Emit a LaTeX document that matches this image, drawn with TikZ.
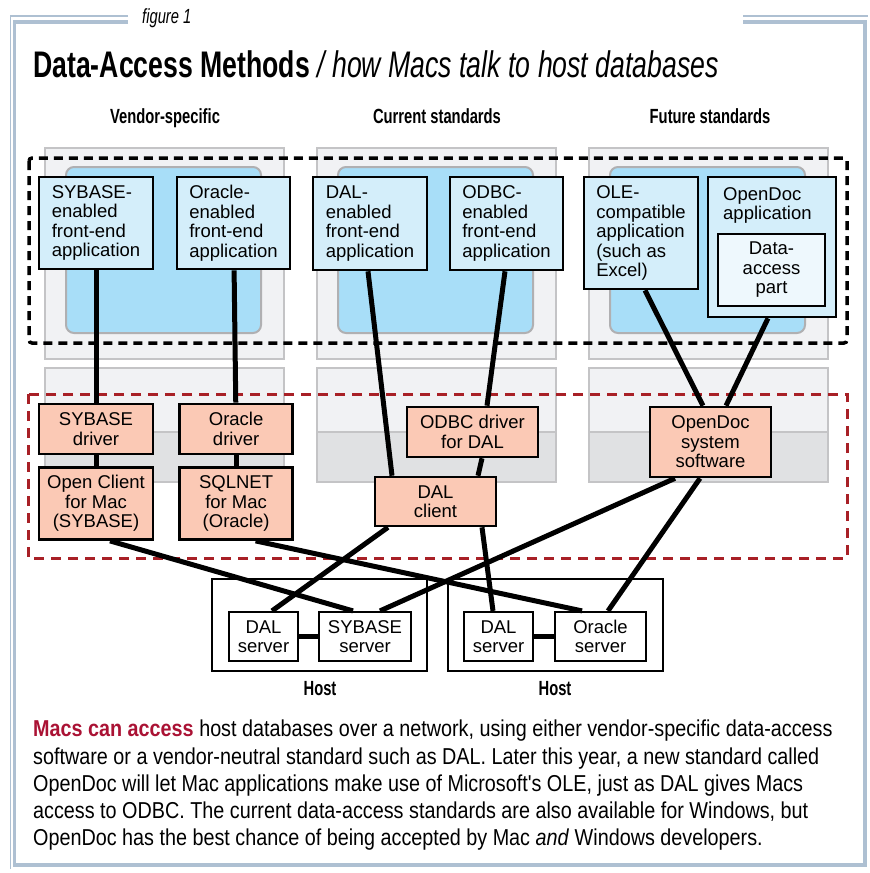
\documentclass[tikz,border=0pt]{standalone}
\usepackage{fontspec}
\setmainfont{Liberation Sans}
\newfontfamily\condsf[FakeStretch=0.72]{Liberation Sans}
\newfontfamily\bodysf[FakeStretch=0.86]{Liberation Sans}
\usetikzlibrary{positioning}
\definecolor{framegray}{RGB}{174,192,210}
\definecolor{screenblue}{RGB}{168,222,248}
\definecolor{appblue}{RGB}{212,238,250}
\definecolor{partblue}{RGB}{238,248,253}
\definecolor{drvorange}{RGB}{251,201,181}
\definecolor{casegray}{RGB}{241,242,244}
\definecolor{basegray}{RGB}{224,225,227}
\definecolor{edgegray}{RGB}{196,196,198}
\definecolor{dashred}{RGB}{168,32,38}
\definecolor{leadred}{RGB}{170,18,52}
\newcommand\boxfont{\fontsize{18.5pt}{19.5pt}\selectfont}
\tikzset{
  appbox/.style={draw,line width=2.6pt,fill=appblue,align=left,inner sep=0pt,
    minimum width=114pt,minimum height=92pt,font=\boxfont},
  partbox/.style={draw,line width=2.2pt,fill=partblue,align=center,inner sep=0pt,font=\boxfont},
  drvbox/.style={draw,line width=2.6pt,fill=drvorange,align=center,inner sep=0pt,
    minimum width=114pt,font=\boxfont},
  srvbox/.style={draw,line width=2.2pt,fill=white,align=center,inner sep=0pt,
    minimum height=49pt,font=\boxfont},
  hostbox/.style={draw,line width=2.2pt,fill=white,minimum width=215pt,minimum height=92pt},
  link/.style={line width=5pt},
  colhead/.style={anchor=base,inner sep=0pt,font=\condsf\bfseries\fontsize{20.5pt}{21pt}\selectfont},
  casebox/.style={draw=edgegray,line width=2pt,fill=casegray},
  screenbox/.style={draw=edgegray!90!black,line width=2pt,fill=screenblue,rounded corners=8pt},
  groupframe/.style={line width=3.5pt,dash pattern=on 9pt off 6pt}
}

\begin{document}
\begin{tikzpicture}[x=1pt,y=-1pt]
  \useasboundingbox (0,0) rectangle (870,873);
  \draw[framegray,line width=3.5pt] (128,22) -- (14.5,22) -- (14.5,865) -- (865,865) -- (865,22) -- (743,22);
  \draw[framegray,line width=1.5pt] (128,16) -- (10.5,16) -- (10.5,869);
  \draw[framegray,line width=1.5pt] (743,16) -- (868,16);
  \node[anchor=base west,inner sep=0pt,font=\condsf\itshape\fontsize{20.5pt}{20pt}\selectfont] (figlabel) at (142,23) {figure 1};
  \node[anchor=base west,inner sep=0pt,font=\condsf\fontsize{37pt}{37pt}\selectfont] (title) at (33,77)
    {\textbf{Data-Access Methods} \textit{/ how Macs talk to host databases}};
  \node[colhead] (vendorhead) at (165,123) {Vendor-specific};
  \node[colhead] (currenthead) at (437,123) {Current standards};
  \node[colhead] (futurehead) at (710,123) {Future standards};

  \foreach \x in {45,317,589}{
    \draw[casebox] (\x,148) rectangle ++(239,211);
    \draw[screenbox] (\x+21,167) rectangle ++(195,166);
    \draw[casebox] (\x,368) rectangle ++(239,64);
    \draw[casebox,fill=basegray] (\x,432) rectangle ++(239,50);
  }
  \draw[groupframe,rounded corners=3pt] (29,158) rectangle (847,343);
  \draw[groupframe,draw=dashred,line width=3pt,dash pattern=on 10pt off 7pt] (28,394) rectangle (847,558);

  \node[hostbox] (host1) at (319.5,625) {};
  \node[hostbox] (host2) at (555.5,625) {};
  \node[colhead] (host1lbl) at (320,695) {Host};
  \node[colhead] (host2lbl) at (555,695) {Host};

  \node[appbox] (sybapp) at (96,223) {SYBASE-\\enabled\\front-end\\application};
  \node[appbox,minimum width=113pt] (oraapp) at (233.5,223) {Oracle-\\enabled\\front-end\\application};
  \node[appbox,minimum height=93pt] (dalapp) at (370,223.5) {DAL-\\enabled\\front-end\\application};
  \node[appbox,minimum width=113pt,minimum height=93pt] (odbcapp) at (506.5,223.5) {ODBC-\\enabled\\front-end\\application};
  \node[appbox,minimum height=112pt] (oleapp) at (641,233) {OLE-\\compatible\\application\\(such as\\Excel)};
  \node[appbox,minimum width=128pt,minimum height=140pt] (odapp) at (772,247) {};
  \node[anchor=north west,align=left,inner sep=0pt,font=\boxfont] (odtitle) at (723,187) {OpenDoc\\application};
  \node[partbox,minimum width=107pt,minimum height=72pt] (dapart) at (771.5,270) {Data-\\access\\part};

  \node[drvbox,minimum height=50pt] (sybdrv) at (96,429) {SYBASE\\driver};
  \node[drvbox,minimum height=50pt,minimum width=113pt,right=24pt of sybdrv] (oradrv) {Oracle\\driver};
  \node[drvbox,minimum height=72pt,below=11pt of sybdrv] (opencl) {Open Client\\for Mac\\(SYBASE)};
  \node[drvbox,minimum height=72pt,minimum width=113pt,below=11pt of oradrv] (sqlnet) {SQLNET\\for Mac\\(Oracle)};
  \node[drvbox,minimum width=131pt,minimum height=50pt] (odbcdrv) at (472.5,432) {ODBC driver\\for DAL};
  \node[drvbox,minimum width=121pt,minimum height=49pt] (dalcl) at (435.5,501.5) {DAL\\client};
  \node[drvbox,minimum width=121pt,minimum height=70pt] (odsys) at (710.5,442) {OpenDoc\\system\\software};

  \node[srvbox,minimum width=69pt] (dalsrv1) at (263.5,636.5) {DAL\\server};
  \node[srvbox,minimum width=92pt] (sybsrv) at (365,636.5) {SYBASE\\server};
  \node[srvbox,minimum width=69pt] (dalsrv2) at (498.5,636.5) {DAL\\server};
  \node[srvbox,minimum width=91pt] (orasrv) at (600.5,636.5) {Oracle\\server};

  \draw[link] (sybapp) -- (sybdrv);
  \draw[link] (sybdrv) -- (opencl);
  \draw[link] (oraapp) -- (oradrv);
  \draw[link] (oradrv) -- (sqlnet);
  \draw[link] ([xshift=-2pt]dalapp.south) -- ([xshift=-43.5pt]dalcl.north);
  \draw[link] ([xshift=-1.5pt]odbcapp.south) -- ([xshift=14.5pt]odbcdrv.north);
  \draw[link] ([xshift=9.5pt]odbcdrv.south) -- ([xshift=42.5pt]dalcl.north);
  \draw[link] ([xshift=4pt]oleapp.south) -- ([xshift=-7.5pt]odsys.north);
  \draw[link] ([xshift=-4pt]odapp.south) -- ([xshift=15.5pt]odsys.north);
  \draw[link] ([xshift=14pt]opencl.south) -- ([xshift=-12pt]sybsrv.north);
  \draw[link] ([xshift=19.5pt]sqlnet.south) -- ([xshift=-18.5pt]orasrv.north);
  \draw[link] ([xshift=-47.5pt]dalcl.south) -- ([xshift=8.5pt]dalsrv1.north);
  \draw[link] ([xshift=46.5pt]dalcl.south) -- ([xshift=-5.5pt]dalsrv2.north);
  \draw[link] ([xshift=-35.5pt]odsys.south) -- ([xshift=15pt]sybsrv.north);
  \draw[link] ([xshift=-10.5pt]odsys.south) -- ([xshift=7.5pt]orasrv.north);
  \draw[link] (dalsrv1) -- (sybsrv);
  \draw[link] (dalsrv2) -- (orasrv);

  \node[anchor=north west,align=left,inner sep=0pt,font=\bodysf\fontsize{23pt}{27.2pt}\selectfont] (caption) at (33,720)
    {{\color{leadred}\bfseries Macs can access} host databases over a network, using either vendor-specific data-access\\
     software or a vendor-neutral standard such as DAL. Later this year, a new standard called\\
     OpenDoc will let Mac applications make use of Microsoft's OLE, just as DAL gives Macs\\
     access to ODBC. The current data-access standards are also available for Windows, but\\
     OpenDoc has the best chance of being accepted by Mac \textit{and} Windows developers.};
\end{tikzpicture}
\end{document}
